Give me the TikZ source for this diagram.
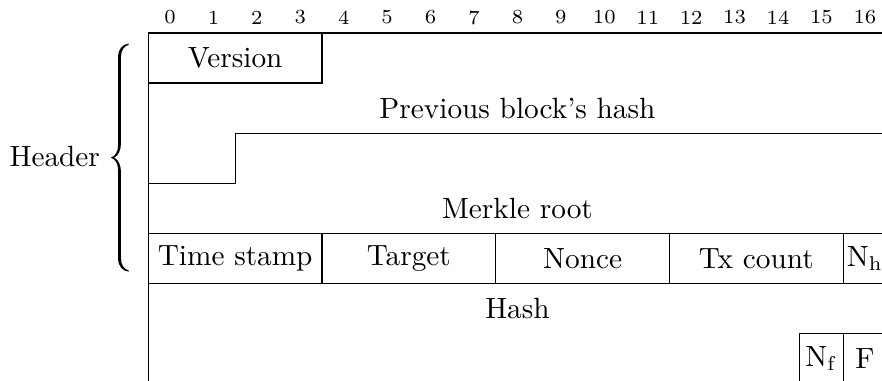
\documentclass[tikz,border=0pt]{standalone}
\begin{document}
\begin{tikzpicture}[x=0.35pt,y=-0.35pt,
  field/.style={line width=0.45pt,line cap=rect},
  lbl/.style={inner sep=0pt,font=\fontsize{10.25}{12.3}\selectfont},
  bitnum/.style={inner sep=0pt,font=\fontsize{7}{8.4}\selectfont}]
  % canvas and clipping region
  \useasboundingbox (0,0) rectangle (882,380);
  \clip (0,0) rectangle (882,380);

  % geometry: left edge, bit width, row boundaries
  \def\bz{148.3}
  \def\bw{43.43}
  \pgfmathsetmacro\bR{\bz+17*\bw}

  % bit numbers 0..16
  \foreach \k in {0,...,16}{
    \node[bitnum] (bit\k) at ({\bz+\bw*(\k+0.5)},17.5) {\k};
  }

  % outer left edge and top edge
  \draw[field] (\bz,33) -- (\bz,395);
  \draw[field] (\bz,33) -- (\bR,33);

  % Version field (bits 0-3 of the first word)
  \draw[field] ({\bz+4*\bw},33) -- ({\bz+4*\bw},83.1) -- (\bz,83.1);
  \node[lbl] (version) at ({\bz+2*\bw},58.05) {Version};

  % boundary between previous block's hash and Merkle root
  \draw[field] (\bz,183.2) -- ({\bz+2*\bw},183.2) -- ({\bz+2*\bw},133.2) -- (\bR,133.2);
  \node[lbl] (prevhash) at ({\bz+8.5*\bw},108.15) {Previous block's hash};
  \node[lbl] (merkle) at ({\bz+8.5*\bw},208.25) {Merkle root};

  % word with time stamp, target, nonce, tx count, N_h
  \draw[field] (\bz,233.3) -- (\bR,233.3);
  \draw[field] (\bz,283.4) -- (\bR,283.4);
  \foreach \c in {4,8,12,16}{
    \draw[field] ({\bz+\c*\bw},233.3) -- ({\bz+\c*\bw},283.4);
  }
  \node[lbl] (timestamp) at ({\bz+2*\bw},258.35) {Time stamp};
  \node[lbl] (target) at ({\bz+6*\bw},258.35) {Target};
  \node[lbl] (nonce) at ({\bz+10*\bw},258.35) {Nonce};
  \node[lbl] (txcount) at ({\bz+14*\bw},258.35) {Tx count};
  \node[lbl] (nh) at ({\bz+16.5*\bw},258.35) {N$_\mathrm{h}$};

  % hash and trailing fields
  \node[lbl] (hash) at ({\bz+8.5*\bw},308.45) {Hash};
  \draw[field] ({\bz+15*\bw},395) -- ({\bz+15*\bw},333.5) -- (\bR,333.5);
  \draw[field] ({\bz+16*\bw},333.5) -- ({\bz+16*\bw},395);
  \node[lbl] (nf) at ({\bz+15.5*\bw},358.55) {N$_\mathrm{f}$};
  \node[lbl] (f) at ({\bz+16.5*\bw},358.55) {F};

  % header group: label and a filled curly brace
  \node[lbl,anchor=base east] (header) at (100.5,166.5) {Header};
  \fill
    (128.6,43.6) .. controls (122.5,44.2) and (118.1,49) .. (118.1,57)
    -- (118.1,145)
    .. controls (118.1,151.5) and (115.5,156.2) .. (110.8,157.6)
    .. controls (115.5,159) and (118.1,163.7) .. (118.1,170.2)
    -- (118.1,258.2)
    .. controls (118.1,266.2) and (122.5,271) .. (128.6,271.6)
    -- (128.6,270.3)
    .. controls (124.2,269.4) and (120.9,265) .. (120.9,257.8)
    -- (120.9,171.5)
    .. controls (120.9,165) and (118.4,159.6) .. (114.2,157.6)
    .. controls (118.4,155.6) and (120.9,150.2) .. (120.9,143.7)
    -- (120.9,57.4)
    .. controls (120.9,50.2) and (124.2,45.8) .. (128.6,44.9)
    -- cycle;
\end{tikzpicture}
\end{document}
